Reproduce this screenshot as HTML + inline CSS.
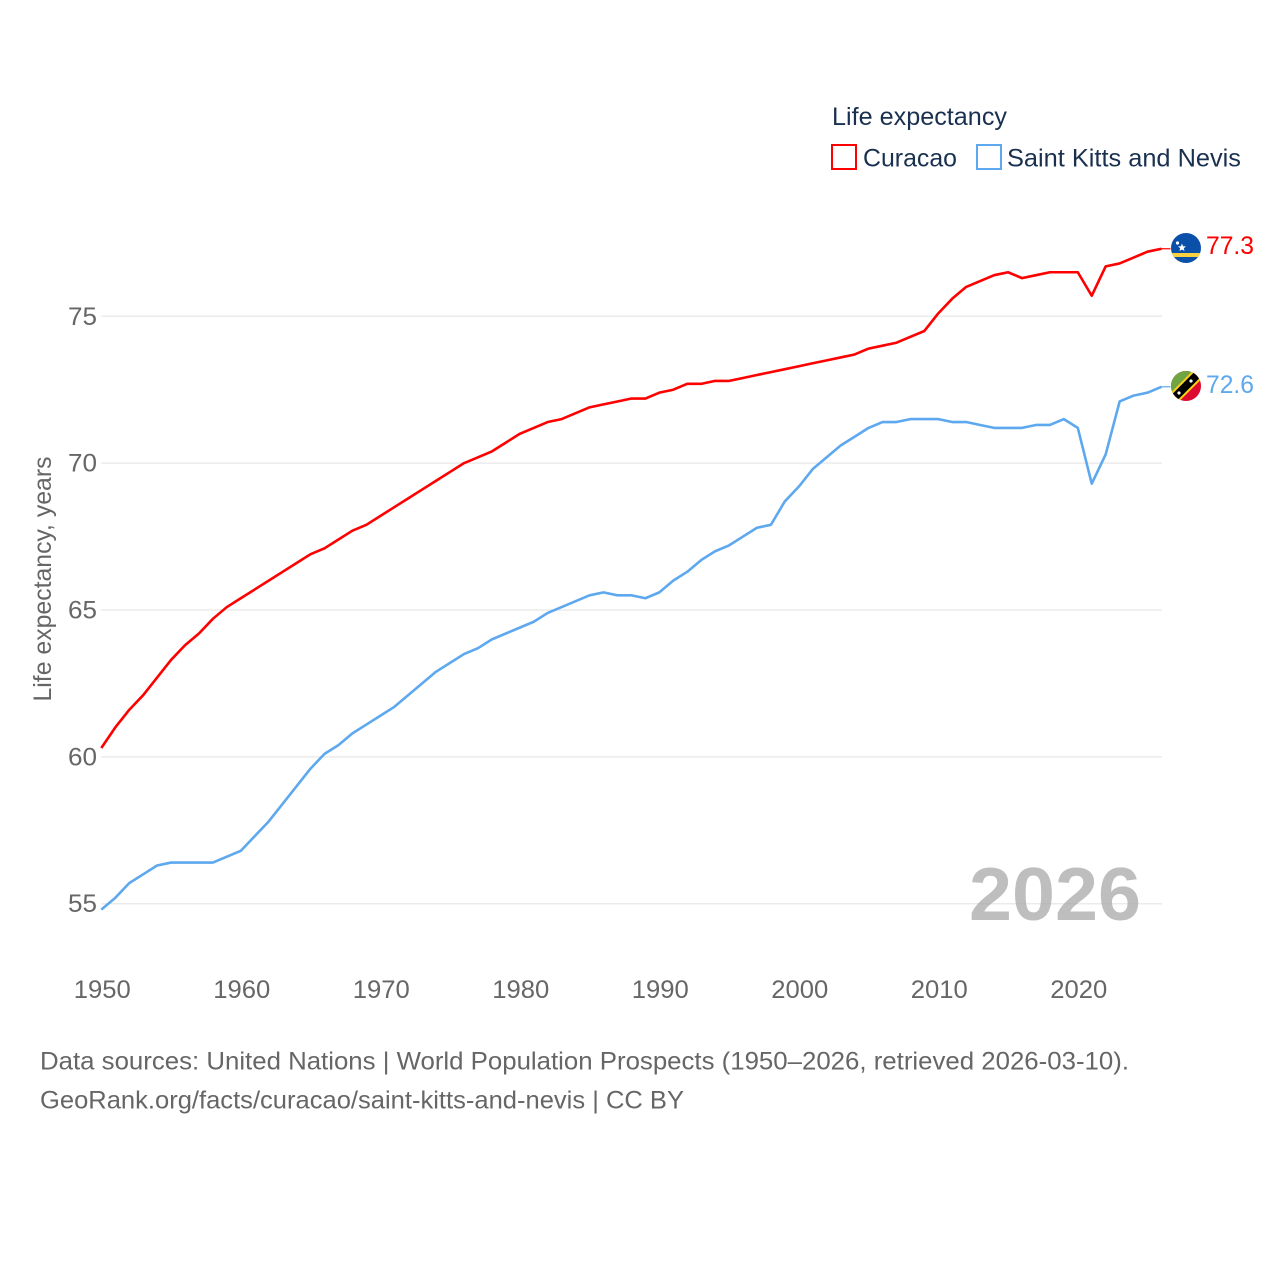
<!DOCTYPE html>
<html lang="en">
<head>
<meta charset="utf-8">
<title>Life expectancy: Curacao and Saint Kitts and Nevis</title>
<style>
html,body{margin:0;padding:0;background:#fff;width:1280px;height:1280px;overflow:hidden}
svg{display:block}
text{font-family:"Liberation Sans",sans-serif}
</style>
</head>
<body>
<svg id="chart" width="1280" height="1280" viewBox="0 0 1280 1280" xmlns="http://www.w3.org/2000/svg">
  <defs>
    <clipPath id="flag-clip-a"><circle cx="1186" cy="248" r="15"/></clipPath>
    <clipPath id="flag-clip-b"><circle cx="1186" cy="386" r="15"/></clipPath>
  </defs>
  <rect width="1280" height="1280" fill="#fff"/>
  <g id="grid"></g>
  <g id="yticks"></g>
  <g id="xticks"></g>
  <text transform="translate(51,579) rotate(-90)" text-anchor="middle" font-size="25" fill="#666" textLength="245" lengthAdjust="spacingAndGlyphs">Life expectancy, years</text>

  <text x="969" y="920" font-size="75" font-weight="bold" fill="#a8a8a8" fill-opacity="0.75" textLength="172" lengthAdjust="spacingAndGlyphs">2026</text>

  <g id="series"></g>

  <g clip-path="url(#flag-clip-a)">
    <rect x="1171" y="233" width="30" height="30" fill="#0a50a8"/>
    <rect x="1171" y="253" width="30" height="4" fill="#f9d03e"/>
    <polygon points="1182,243.5 1183.1,246.2 1186,246.4 1183.8,248.2 1184.5,251 1182,249.5 1179.5,251 1180.2,248.2 1178,246.4 1180.9,246.2" fill="#fff"/>
    <circle cx="1177.5" cy="243" r="1.6" fill="#fff"/>
  </g>
  <g clip-path="url(#flag-clip-b)">
    <rect x="1171" y="371" width="30" height="30" fill="#dc0a2e"/>
    <polygon points="1171,371 1201,371 1171,401" fill="#70a542"/>
    <line x1="1172" y1="400" x2="1200" y2="372" stroke="#fcd116" stroke-width="12"/>
    <line x1="1172" y1="400" x2="1200" y2="372" stroke="#000" stroke-width="8"/>
    <circle cx="1179" cy="393" r="1.6" fill="#fff"/>
    <circle cx="1191" cy="381" r="1.6" fill="#fff"/>
  </g>

  <text x="1206" y="254" font-size="25" fill="#ff0000" textLength="48" lengthAdjust="spacingAndGlyphs">77.3</text>
  <text x="1206" y="393" font-size="25" fill="#5da8ee" textLength="48" lengthAdjust="spacingAndGlyphs">72.6</text>

  <text x="832" y="125" font-size="25" fill="#1a3050" textLength="175" lengthAdjust="spacingAndGlyphs">Life expectancy</text>
  <g>
    <rect x="832" y="145" width="24" height="24" fill="none" stroke="#ff0000" stroke-width="2"/>
    <text x="863" y="166.5" font-size="25" fill="#1a3050" textLength="94" lengthAdjust="spacingAndGlyphs">Curacao</text>
  </g>
  <g>
    <rect x="977" y="145" width="24" height="24" fill="none" stroke="#5da8ee" stroke-width="2"/>
    <text x="1007" y="166.5" font-size="25" fill="#1a3050" textLength="234" lengthAdjust="spacingAndGlyphs">Saint Kitts and Nevis</text>
  </g>

  <text x="40" y="1069.5" font-size="25" fill="#666" textLength="1089" lengthAdjust="spacingAndGlyphs">Data sources: United Nations | World Population Prospects (1950–2026, retrieved 2026-03-10).</text>
  <text x="40" y="1108.5" font-size="25" fill="#666" textLength="644" lengthAdjust="spacingAndGlyphs">GeoRank.org/facts/curacao/saint-kitts-and-nevis | CC BY</text>
</svg>
<script>
const years = [1950,1951,1952,1953,1954,1955,1956,1957,1958,1959,1960,1961,1962,1963,1964,1965,1966,1967,1968,1969,1970,1971,1972,1973,1974,1975,1976,1977,1978,1979,1980,1981,1982,1983,1984,1985,1986,1987,1988,1989,1990,1991,1992,1993,1994,1995,1996,1997,1998,1999,2000,2001,2002,2003,2004,2005,2006,2007,2008,2009,2010,2011,2012,2013,2014,2015,2016,2017,2018,2019,2020,2021,2022,2023,2024,2025,2026];
const curacao = [60.3,61.0,61.6,62.1,62.7,63.3,63.8,64.2,64.7,65.1,65.4,65.7,66.0,66.3,66.6,66.9,67.1,67.4,67.7,67.9,68.2,68.5,68.8,69.1,69.4,69.7,70.0,70.2,70.4,70.7,71.0,71.2,71.4,71.5,71.7,71.9,72.0,72.1,72.2,72.2,72.4,72.5,72.7,72.7,72.8,72.8,72.9,73.0,73.1,73.2,73.3,73.4,73.5,73.6,73.7,73.9,74.0,74.1,74.3,74.5,75.1,75.6,76.0,76.2,76.4,76.5,76.3,76.4,76.5,76.5,76.5,75.7,76.7,76.8,77.0,77.2,77.3];
const saintKitts = [54.8,55.2,55.7,56.0,56.3,56.4,56.4,56.4,56.4,56.6,56.8,57.3,57.8,58.4,59.0,59.6,60.1,60.4,60.8,61.1,61.4,61.7,62.1,62.5,62.9,63.2,63.5,63.7,64.0,64.2,64.4,64.6,64.9,65.1,65.3,65.5,65.6,65.5,65.5,65.4,65.6,66.0,66.3,66.7,67.0,67.2,67.5,67.8,67.9,68.7,69.2,69.8,70.2,70.6,70.9,71.2,71.4,71.4,71.5,71.5,71.5,71.4,71.4,71.3,71.2,71.2,71.2,71.3,71.3,71.5,71.2,69.3,70.3,72.1,72.3,72.4,72.6];
const yTickValues = [55,60,65,70,75];
const xTickValues = [1950,1960,1970,1980,1990,2000,2010,2020];

const NS = 'http://www.w3.org/2000/svg';
const xScale = function (year) { return 101.3 + (year - 1950) * 13.95; };
const yScale = function (value) { return 316.3 + (75 - value) * 29.37; };
const make = function (tag, attrs, parent) {
  const el = document.createElementNS(NS, tag);
  Object.keys(attrs).forEach(function (k) { el.setAttribute(k, attrs[k]); });
  parent.appendChild(el);
  return el;
};
const grid = document.getElementById('grid');
const yticks = document.getElementById('yticks');
const xticks = document.getElementById('xticks');
const seriesGroup = document.getElementById('series');

yTickValues.forEach(function (v) {
  const line = make('line', {x1: 101, x2: 1162, y1: yScale(v), y2: yScale(v), stroke: '#ebebeb', 'stroke-width': 1.5}, grid);
  
  
  const label = make('text', {x: 97, y: yScale(v) + 8.5, 'text-anchor': 'end', 'font-size': 25, fill: '#666', textLength: 29, lengthAdjust: 'spacingAndGlyphs'}, yticks);
  label.textContent = String(v);
  
  
});

xTickValues.forEach(function (v) {
  const label = make('text', {x: xScale(v) + 1, y: 998, 'text-anchor': 'middle', 'font-size': 25, fill: '#666', textLength: 57, lengthAdjust: 'spacingAndGlyphs'}, xticks);
  label.textContent = String(v);
  
  
});

const drawSeries = function (values, color, name) {
  const pts = values.map(function (v, i) { return xScale(years[i]).toFixed(2) + ',' + yScale(v).toFixed(2); });
  const line = make('polyline', {points: pts.join(' '), fill: 'none', stroke: color, 'stroke-width': 2.6, 'stroke-linejoin': 'round'}, seriesGroup);
  
  
  const lastY = yScale(values[values.length - 1]);
  const lastX = xScale(years[years.length - 1]);
  const lead = make('line', {x1: lastX, x2: lastX + 9, y1: lastY, y2: lastY, stroke: color, 'stroke-width': 1.2}, seriesGroup);
  
  
};
drawSeries(curacao, '#ff0000', 'curacao');
drawSeries(saintKitts, '#5da8ee', 'saint-kitts-and-nevis');
</script>
</body>
</html>
